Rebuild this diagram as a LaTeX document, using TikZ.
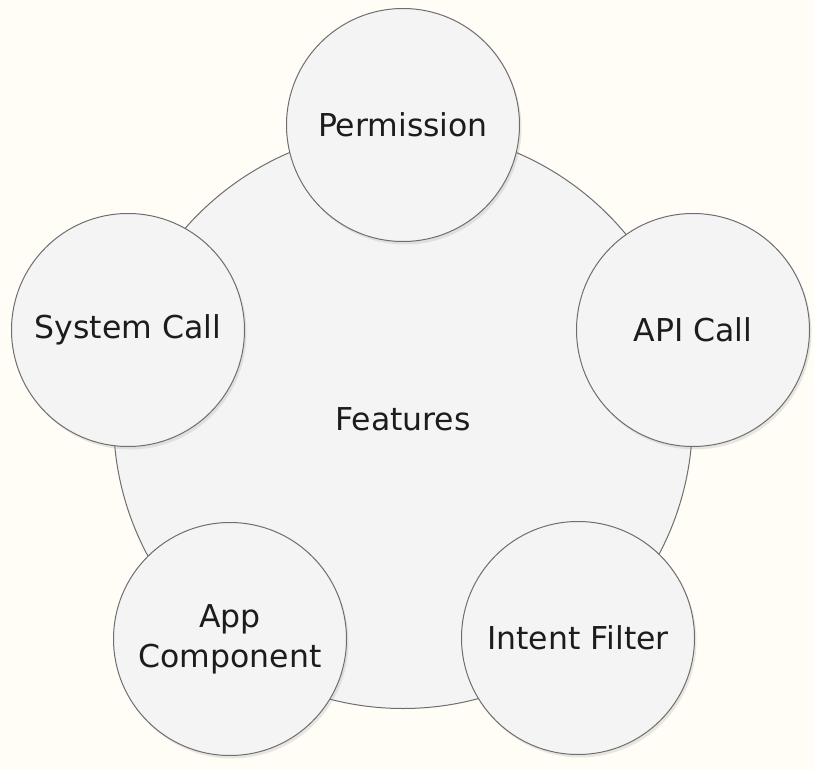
\documentclass[tikz,border=0pt]{standalone}
\usepackage{fontspec}
\setmainfont{DejaVu Sans}
\usetikzlibrary{shadows}
\definecolor{paper}{HTML}{FFFDF6}
\definecolor{bubble}{HTML}{F4F4F5}
\definecolor{rim}{HTML}{6E6E6E}
\definecolor{ink}{HTML}{1C1C1C}
\tikzset{
  feat/.style={circle, draw=rim, fill=bubble, line width=1pt, text=ink,
    align=center, inner sep=0pt, font=\fontsize{31.5}{40}\selectfont},
  small/.style={feat, minimum size=233pt,
    drop shadow={shadow xshift=2pt, shadow yshift=-3pt, opacity=0.18}},
  big/.style={feat, minimum size=579pt}
}
\begin{document}
\begin{tikzpicture}[x=1pt, y=-1pt]
	\useasboundingbox [fill=paper] (0,0) rectangle (814,770);
	% hub
	\node (F) [big] at (403,419) {Features};
	% the five features
	\node (P) [small] at (403,125) {Permission};
	\node (A) [small] at (693,330) {API Call};
	\node (S) [small] at (128,330) {System Call};
	\node (C) [small] at (230,639) {App\\Component};
	\node (I) [small] at (578,638) {Intent Filter};
\end{tikzpicture}
\end{document}
